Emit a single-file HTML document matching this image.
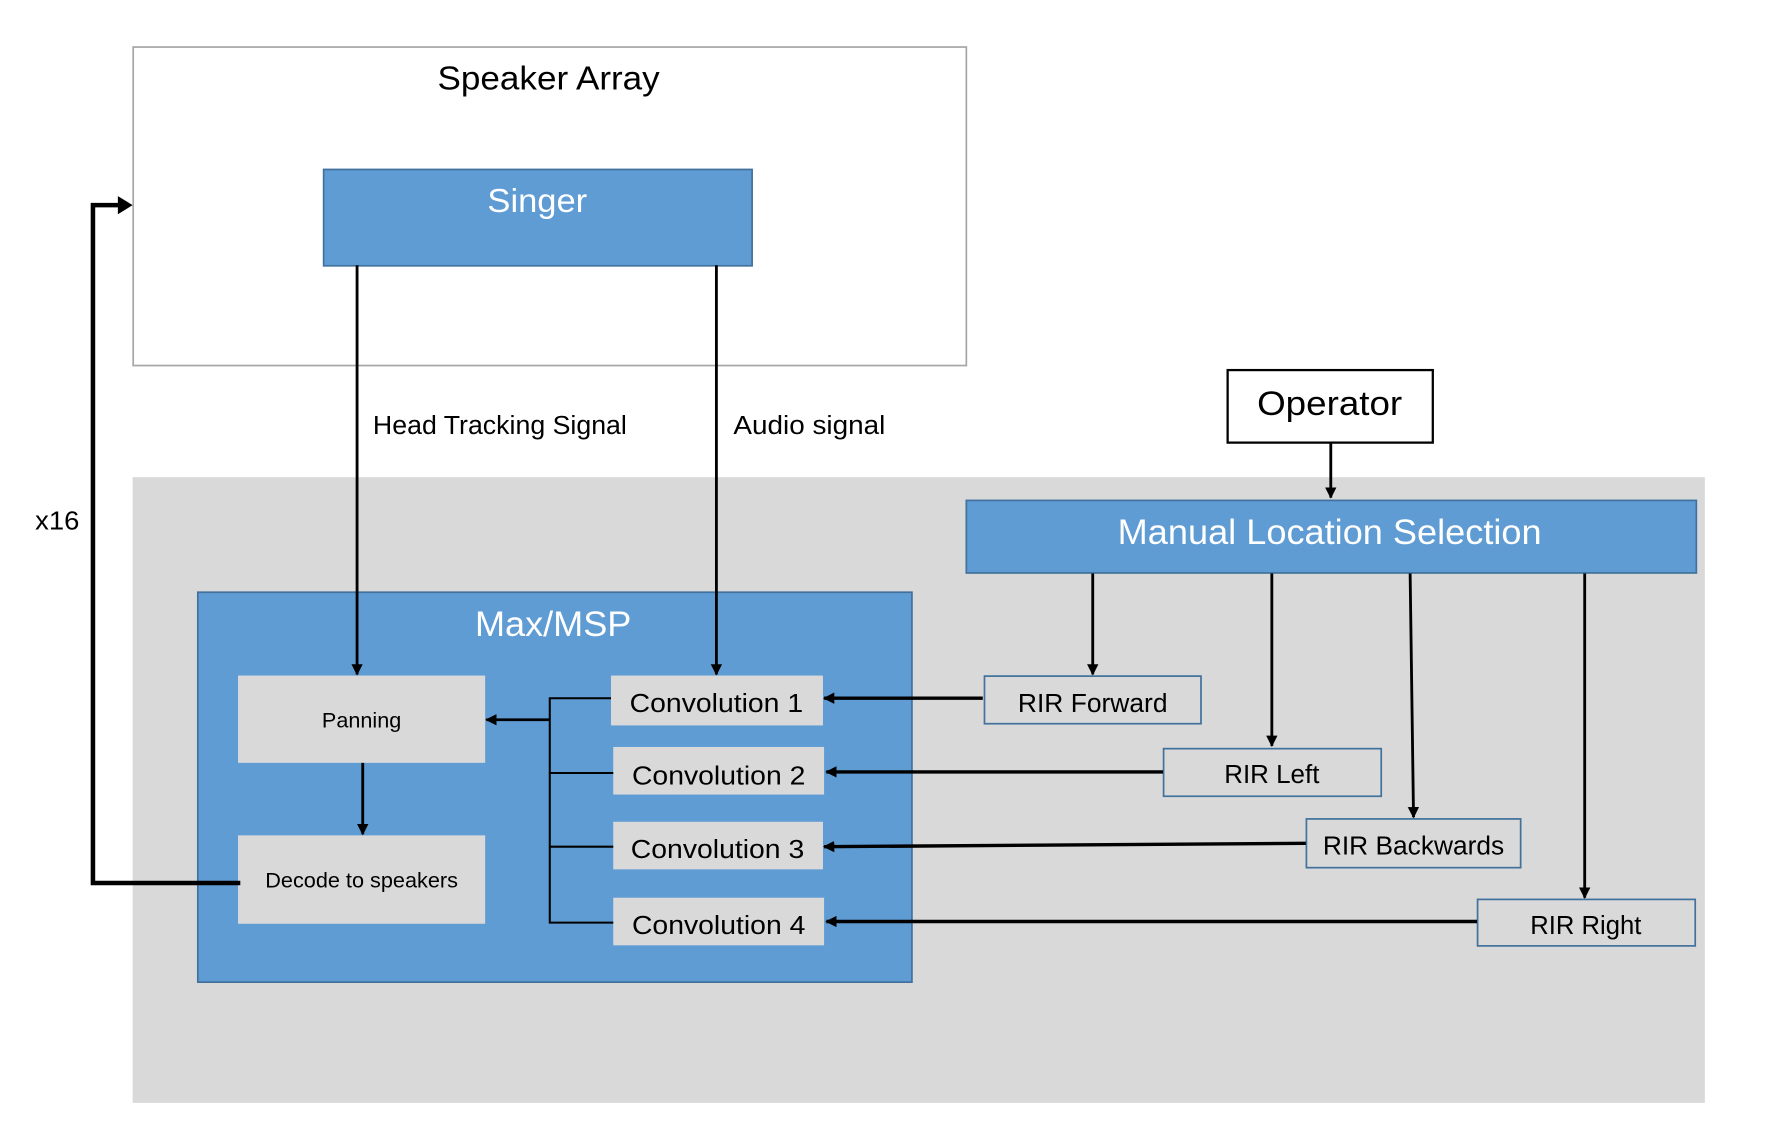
<!DOCTYPE html>
<html><head><meta charset="utf-8"><style>
html,body{margin:0;padding:0;background:#fff;width:1774px;height:1138px;overflow:hidden}
svg{display:block}
text{font-family:"Liberation Sans",sans-serif}
</style></head><body>
<svg width="1774" height="1138" viewBox="0 0 1565 1004" preserveAspectRatio="none" xmlns="http://www.w3.org/2000/svg">
<defs>
<marker id="a" markerWidth="10" markerHeight="10" refX="9" refY="5" orient="auto" markerUnits="userSpaceOnUse"><path d="M0,0 L10,5 L0,10 z" fill="#000"/></marker>
</defs>
<rect x="0" y="0" width="1565" height="1004" fill="#fff"/>
<rect x="117.5" y="41.5" width="735" height="281" fill="#fff" stroke="#a6a6a6" stroke-width="1.5"/>
<text x="484" y="79" font-size="29" text-anchor="middle" textLength="196" lengthAdjust="spacingAndGlyphs">Speaker Array</text>
<rect x="285.5" y="149.5" width="378" height="85" fill="#5f9cd4" stroke="#41719c" stroke-width="1.5"/>
<text x="474" y="187" font-size="29" fill="#fff" text-anchor="middle" textLength="88" lengthAdjust="spacingAndGlyphs">Singer</text>
<rect x="117" y="421" width="1387" height="552" fill="#d9d9d9"/>
<text x="329" y="383" font-size="23" textLength="224" lengthAdjust="spacingAndGlyphs">Head Tracking Signal</text>
<text x="647" y="383" font-size="23" textLength="134" lengthAdjust="spacingAndGlyphs">Audio signal</text>
<text x="31" y="467" font-size="23" textLength="39" lengthAdjust="spacingAndGlyphs">x16</text>
<rect x="1083" y="326.5" width="181" height="64" fill="#fff" stroke="#000" stroke-width="2"/>
<text x="1173" y="366" font-size="30" text-anchor="middle" textLength="128" lengthAdjust="spacingAndGlyphs">Operator</text>
<line x1="1174" y1="391" x2="1174" y2="439" stroke="#000" stroke-width="2.5" marker-end="url(#a)"/>
<rect x="852.5" y="441.5" width="644" height="64" fill="#5f9cd4" stroke="#41719c" stroke-width="1.5"/>
<text x="1173" y="480" font-size="31" fill="#fff" text-anchor="middle" textLength="374" lengthAdjust="spacingAndGlyphs">Manual Location Selection</text>
<rect x="174.5" y="522.5" width="630" height="344" fill="#5f9cd4" stroke="#41719c" stroke-width="1.5"/>
<text x="488" y="561" font-size="31" fill="#fff" text-anchor="middle" textLength="138" lengthAdjust="spacingAndGlyphs">Max/MSP</text>
<rect x="210" y="596" width="218" height="77" fill="#d9d9d9"/>
<text x="319" y="642" font-size="19" text-anchor="middle" textLength="70" lengthAdjust="spacingAndGlyphs">Panning</text>
<rect x="210" y="737" width="218" height="78" fill="#d9d9d9"/>
<text x="319" y="783" font-size="19" text-anchor="middle" textLength="170" lengthAdjust="spacingAndGlyphs">Decode to speakers</text>
<rect x="539" y="596" width="187" height="44" fill="#d9d9d9"/>
<text x="632" y="628" font-size="23" text-anchor="middle" textLength="153" lengthAdjust="spacingAndGlyphs">Convolution 1</text>
<rect x="541" y="659" width="186" height="42" fill="#d9d9d9"/>
<text x="634" y="692" font-size="23" text-anchor="middle" textLength="153" lengthAdjust="spacingAndGlyphs">Convolution 2</text>
<rect x="541" y="725" width="185" height="42" fill="#d9d9d9"/>
<text x="633" y="757" font-size="23" text-anchor="middle" textLength="153" lengthAdjust="spacingAndGlyphs">Convolution 3</text>
<rect x="541" y="792" width="186" height="42" fill="#d9d9d9"/>
<text x="634" y="824" font-size="23" text-anchor="middle" textLength="153" lengthAdjust="spacingAndGlyphs">Convolution 4</text>
<g fill="#d9d9d9" stroke="#41719c" stroke-width="1.5">
<rect x="868.5" y="596.5" width="191" height="42"/>
<rect x="1026.5" y="660.5" width="192" height="42"/>
<rect x="1152.5" y="722.5" width="189" height="43"/>
<rect x="1303.5" y="793.5" width="192" height="41"/>
</g>
<g font-size="23" text-anchor="middle">
<text x="964" y="628" textLength="132" lengthAdjust="spacingAndGlyphs">RIR Forward</text>
<text x="1122" y="691" textLength="84" lengthAdjust="spacingAndGlyphs">RIR Left</text>
<text x="1247" y="754" textLength="160" lengthAdjust="spacingAndGlyphs">RIR Backwards</text>
<text x="1399" y="824" textLength="98" lengthAdjust="spacingAndGlyphs">RIR Right</text>
</g>
<g stroke="#000" fill="none">
<line x1="315" y1="234" x2="315" y2="595" stroke-width="2.5" marker-end="url(#a)"/>
<line x1="632" y1="234" x2="632" y2="595" stroke-width="2.5" marker-end="url(#a)"/>
<line x1="320" y1="673" x2="320" y2="736" stroke-width="2.5" marker-end="url(#a)"/>
<polyline points="539,616 485,616 485,814 541,814" stroke-width="1.8"/>
<line x1="485" y1="682" x2="541" y2="682" stroke-width="1.8"/>
<line x1="485" y1="747" x2="541" y2="747" stroke-width="1.8"/>
<line x1="485" y1="635" x2="429" y2="635" stroke-width="2.5" marker-end="url(#a)"/>
<line x1="964" y1="506" x2="964" y2="595" stroke-width="2.5" marker-end="url(#a)"/>
<line x1="1122" y1="506" x2="1122" y2="658" stroke-width="2.5" marker-end="url(#a)"/>
<line x1="1244" y1="506" x2="1247" y2="721" stroke-width="2.5" marker-end="url(#a)"/>
<line x1="1398" y1="506" x2="1398" y2="792" stroke-width="2.5" marker-end="url(#a)"/>
<line x1="867" y1="616" x2="727" y2="616" stroke-width="3" marker-end="url(#a)"/>
<line x1="1026" y1="681" x2="729" y2="681" stroke-width="3" marker-end="url(#a)"/>
<line x1="1152" y1="744" x2="727" y2="747" stroke-width="3" marker-end="url(#a)"/>
<line x1="1303" y1="813" x2="729" y2="813" stroke-width="3" marker-end="url(#a)"/>
<polyline points="212,779 82,779 82,181 106,181" stroke-width="4"/>
</g>
<path d="M104,173 L117,181 L104,189 z" fill="#000"/>
</svg>
</body></html>
